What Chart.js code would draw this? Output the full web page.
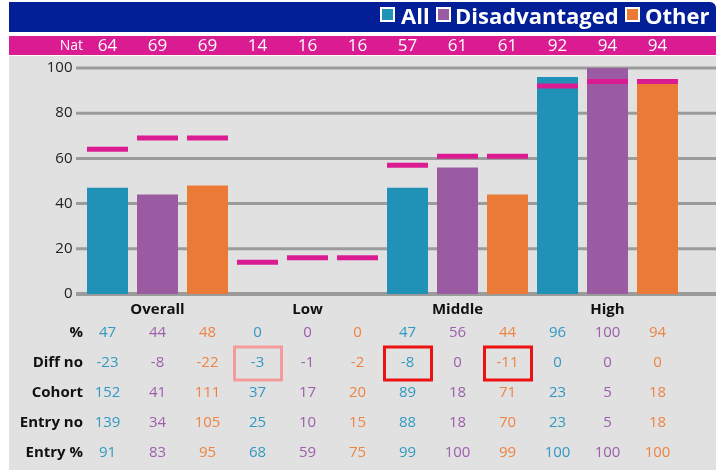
<!DOCTYPE html>
<html><head><meta charset="utf-8">
<script src="https://cdn.jsdelivr.net/npm/chart.js@4.4.1/dist/chart.umd.min.js"></script>
<style>
html,body{margin:0;padding:0;background:#fff;}
#wrap{position:relative;width:716px;height:470px;overflow:hidden;}
#c{position:absolute;left:0;top:0;}
#legend{position:absolute;left:0;top:0;width:716px;height:32px;font-family:'Open Sans',sans-serif;font-weight:700;font-size:22px;color:#fff;}
#legend span{position:absolute;top:1px;line-height:28px;white-space:nowrap;}
#legend i{position:absolute;top:7px;width:11px;height:11px;border:2px solid #fff;display:block;}
</style></head>
<body>
<div id="wrap">
<canvas id="c" width="716" height="470"></canvas>
<div id="legend">
  <i style="left:380px;background:#2192b7"></i><span style="left:401px">All</span>
  <i style="left:436px;background:#9b5ba3"></i><span style="left:455px">Disadvantaged</span>
  <i style="left:625px;background:#ec7a37"></i><span style="left:645px">Other</span>
</div>
</div>
<script>
// ---- data ----
const groups = ['Overall', 'Low', 'Middle', 'High'];
const series = ['All', 'Disadvantaged', 'Other'];
const pct      = [47, 44, 48,   0, 0, 0,    47, 56, 44,   96, 100, 94];
const nat      = [64, 69, 69,   14, 16, 16, 57, 61, 61,   92, 94, 94];
const diffNo   = [-23, -8, -22, -3, -1, -2, -8, 0, -11,   0, 0, 0];
const cohort   = [152, 41, 111, 37, 17, 20, 89, 18, 71,   23, 5, 18];
const entryNo  = [139, 34, 105, 25, 10, 15, 88, 18, 70,   23, 5, 18];
const entryPct = [91, 83, 95,   68, 59, 75, 99, 100, 99,  100, 100, 100];
const yTicks = [0, 20, 40, 60, 80, 100];
const rowLabels = ['%', 'Diff no', 'Cohort', 'Entry no', 'Entry %'];
const highlightMild = [3];     // Diff no cells boxed in light red
const highlightStrong = [6, 8]; // Diff no cells boxed in red

// ---- styles ----
const barColors = ['#2192b7', '#9b5ba3', '#ec7a37'];
const textColors = ['#3299c2', '#9d5fab', '#ee8442'];
const MAGENTA = '#da1b91', NAVY = '#021f97', GRAY = '#e1e1e1', GRID = '#9b9b9b';
const FONT = "'Open Sans', sans-serif";

const labels = [];
groups.forEach(g => series.forEach(s => labels.push(g + ' ' + s)));
const rows = [pct, diffNo, cohort, entryNo, entryPct];

const decor = {
  id: 'decor',
  beforeDraw(chart) {
    const ctx = chart.ctx;
    ctx.save();
    ctx.fillStyle = '#fff'; ctx.fillRect(0, 0, 716, 470);
    ctx.fillStyle = NAVY;
    ctx.beginPath(); ctx.roundRect(9, 2, 707, 30, [0, 6, 0, 0]); ctx.fill();
    ctx.fillStyle = MAGENTA; ctx.fillRect(9, 36, 707, 19);
    ctx.fillStyle = GRAY; ctx.fillRect(9, 56, 707, 414);
    ctx.restore();
  },
  beforeDatasetsDraw(chart) {
    const ctx = chart.ctx, ys = chart.scales.y;
    ctx.save();
    ctx.strokeStyle = GRID;
    yTicks.forEach(v => {
      const y = ys.getPixelForValue(v);
      ctx.lineWidth = v === 0 ? 4 : 3;
      ctx.beginPath(); ctx.moveTo(76, y); ctx.lineTo(716, y); ctx.stroke();
    });
    ctx.restore();
  },
  afterDraw(chart) {
    const ctx = chart.ctx, xs = chart.scales.x;
    ctx.save();
    ctx.textBaseline = 'middle';
    // Nat row
    ctx.fillStyle = '#fff';
    ctx.textAlign = 'right'; ctx.font = '14px ' + FONT;
    ctx.fillText('Nat', 83, 46);
    ctx.textAlign = 'center'; ctx.font = '17px ' + FONT;
    nat.forEach((v, i) => ctx.fillText(String(v), xs.getPixelForValue(i), 46));
    // group labels
    ctx.fillStyle = '#111'; ctx.font = 'bold 15px ' + FONT;
    groups.forEach((g, k) => ctx.fillText(g, xs.getPixelForValue(k * 3 + 1), 310));
    // table
    const rowY = [333, 363, 393, 423, 453];
    rows.forEach((arr, r) => {
      ctx.textAlign = 'right'; ctx.fillStyle = '#111'; ctx.font = 'bold 15px ' + FONT;
      ctx.fillText(rowLabels[r], 83, rowY[r]);
      ctx.textAlign = 'center'; ctx.font = '15px ' + FONT;
      arr.forEach((v, i) => {
        ctx.fillStyle = textColors[i % 3];
        ctx.fillText(String(v), xs.getPixelForValue(i), rowY[r]);
      });
    });
    // highlight boxes on Diff no row
    ctx.lineWidth = 3;
    const box = (i, col) => {
      const x = xs.getPixelForValue(i);
      ctx.strokeStyle = col;
      ctx.strokeRect(x - 23, rowY[1] - 16, 47, 33);
    };
    highlightMild.forEach(i => box(i, '#f59b9b'));
    highlightStrong.forEach(i => box(i, '#ee1111'));
    ctx.restore();
  }
};

new Chart(document.getElementById('c'), {
  data: {
    labels,
    datasets: [
      {
        type: 'line', label: 'Nat', data: nat, order: 0,
        showLine: false, pointStyle: 'line', pointRadius: 20.5, pointHoverRadius: 20.5,
        pointBorderWidth: 5, pointHoverBorderWidth: 5,
        borderColor: MAGENTA, backgroundColor: MAGENTA
      },
      {
        type: 'bar', label: 'Pct', data: pct, order: 1,
        backgroundColor: labels.map((_, i) => barColors[i % 3]),
        categoryPercentage: 0.82, barPercentage: 1
      }
    ]
  },
  options: {
    responsive: false, devicePixelRatio: 1, animation: false,
    events: [],
    layout: { padding: { left: 0, top: 68, right: 33.5, bottom: 176 } },
    plugins: { legend: { display: false }, tooltip: { enabled: false } },
    scales: {
      x: { type: 'category', display: false, offset: true },
      y: {
        min: 0, max: 100,
        afterFit(s) { s.width = 82.5; },
        afterBuildTicks(s) { s.ticks = yTicks.map(v => ({ value: v })); },
        grid: { display: false, drawTicks: false },
        border: { display: false },
        ticks: { padding: 10, color: '#222', font: { family: FONT, size: 15 } }
      }
    }
  },
  plugins: [decor]
});
</script>
</body></html>
